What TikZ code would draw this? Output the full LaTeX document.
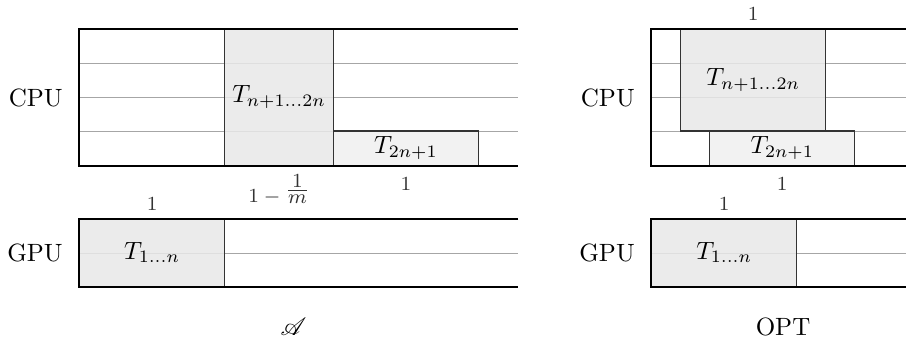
\documentclass[tikz,border=0pt]{standalone}
\usepackage{amsmath}
\usepackage{mathrsfs}
\usetikzlibrary{positioning}
\def\unitw{58pt}
\def\rowh{13.7pt}

\begin{document}
\begin{tikzpicture}[x=\unitw, y=\rowh,
		frame/.style={line width=0.8pt},
		row/.style={black!35, line width=0.4pt},
		task/.style={draw=black!80, line width=0.55pt, fill=black!9, fill opacity=0.85, text opacity=1, inner sep=0pt, anchor=south west},
		lbl/.style={font=\footnotesize, text=black!80}]
	\useasboundingbox (-0.545,-5.139) rectangle (5.703,4.847);

	% schedule of the algorithm
	\foreach \y in {1,2,3} \draw[row] (0,\y) -- (3.03,\y);
	\draw[row] (0,-2.54) -- (3.03,-2.54);
	\node[task, minimum width=0.75*\unitw, minimum height=4*\rowh] (bigA) at (1,0) {$T_{n+1\ldots 2n}$};
	\node[task, fill=black!6, minimum width=\unitw, minimum height=\rowh] (lastA) at (1.75,0) {$T_{2n+1}$};
	\node[task, minimum width=\unitw, minimum height=1.98*\rowh] (gpuA) at (0,-3.53) {$T_{1\ldots n}$};
	\node[lbl, below=0pt of bigA] {$1-\raisebox{2.5pt}{$\frac{\textstyle 1}{\textstyle m}$}$};
	\node[lbl, below=1.2pt of lastA] {$1$};
	\node[lbl, above=-0.5pt of gpuA] {$1$};
	\draw[frame] (3.03,4) -- (0,4) -- (0,0) -- (3.03,0);
	\draw[frame] (3.03,-1.55) -- (0,-1.55) -- (0,-3.53) -- (3.03,-3.53);
	\coordinate (cpuL) at (0,2);
	\coordinate (gpuL) at (0,-2.54);
	\node[left=3pt of cpuL] {CPU};
	\node[left=3pt of gpuL] {GPU};
	\node (algA) at (1.48,-4.70) {$\mathscr{A}$};

	% optimal schedule
	\begin{scope}[shift={(3.945,0)}]
		\foreach \y in {1,2,3} \draw[row] (0,\y) -- (1.76,\y);
		\draw[row] (0,-2.54) -- (1.76,-2.54);
		\node[task, minimum width=\unitw, minimum height=3*\rowh] (bigB) at (0.2,1) {$T_{n+1\ldots 2n}$};
		\node[task, fill=black!6, minimum width=\unitw, minimum height=\rowh] (lastB) at (0.4,0) {$T_{2n+1}$};
		\node[task, minimum width=\unitw, minimum height=1.98*\rowh] (gpuB) at (0,-3.53) {$T_{1\ldots n}$};
		\node[lbl, above=-0.5pt of bigB] {$1$};
		\node[lbl, below=1.2pt of lastB] {$1$};
		\node[lbl, above=-0.5pt of gpuB] {$1$};
		\draw[frame] (1.76,4) -- (0,4) -- (0,0) -- (1.76,0);
		\draw[frame] (1.76,-1.55) -- (0,-1.55) -- (0,-3.53) -- (1.76,-3.53);
		\coordinate (cpuR) at (0,2);
		\coordinate (gpuR) at (0,-2.54);
		\node[left=3pt of cpuR] {CPU};
		\node[left=3pt of gpuR] {GPU};
		\node (opt) at (0.91,-4.70) {OPT};
	\end{scope}
\end{tikzpicture}
\end{document}
